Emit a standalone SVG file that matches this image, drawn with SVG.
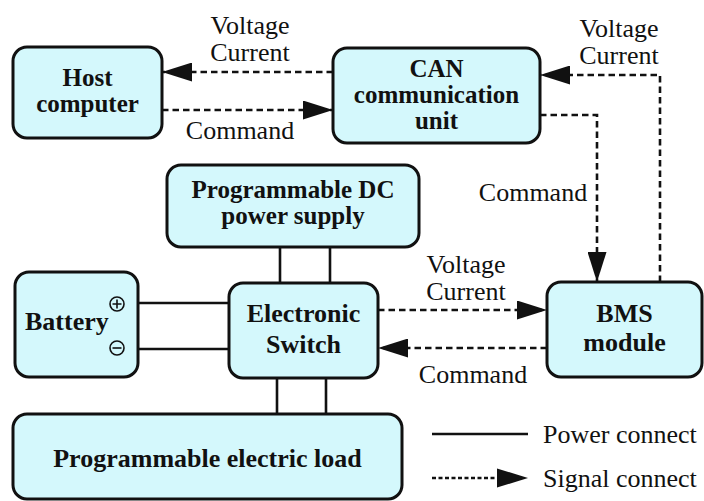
<svg xmlns="http://www.w3.org/2000/svg" width="704" height="501" viewBox="0 0 704 501">
<style>
.box{fill:#D4F8FC;stroke:#111;stroke-width:3}
.nt{font-family:"Liberation Serif","Times New Roman",serif;font-weight:bold;font-size:26px;fill:#111;text-anchor:middle}
.nt2{font-size:25px}
.lt{font-family:"Liberation Serif","Times New Roman",serif;font-size:26px;fill:#111;text-anchor:middle}
.pw{stroke:#111;stroke-width:2.6;fill:none}
.sg{stroke:#111;stroke-width:2.6;fill:none;stroke-dasharray:6.5 4}
.pol{stroke:#111;stroke-width:1.6;fill:none}
</style>
<defs>
<marker id="ah" markerUnits="userSpaceOnUse" markerWidth="30" markerHeight="19" refX="30" refY="9.5" orient="auto">
<path d="M0,0 L30,9.5 L0,19 z" fill="#111"/>
</marker>
</defs>
<rect width="704" height="501" fill="#fff"/>
<g id="connectors">
<path class="sg" d="M333,72 H162" marker-end="url(#ah)"/>
<path class="sg" d="M162,110 H333" marker-end="url(#ah)"/>
<path class="sg" d="M540,115 H597 V282" marker-end="url(#ah)"/>
<path class="sg" d="M660,282 V75 H540" marker-end="url(#ah)"/>
<path class="sg" d="M378,310 H547" marker-end="url(#ah)"/>
<path class="sg" d="M547,348 H378" marker-end="url(#ah)"/>
<path class="pw" d="M280,247 V283 M330,247 V283"/>
<path class="pw" d="M277,378 V414 M326,378 V414"/>
<path class="pw" d="M138,303 H229 M138,349 H229"/>
</g>
<g id="labels">
<text class="lt" x="250" y="34">Voltage</text>
<text class="lt" x="250" y="61">Current</text>
<text class="lt" x="240" y="139">Command</text>
<text class="lt" x="619" y="37">Voltage</text>
<text class="lt" x="619" y="64">Current</text>
<text class="lt" x="533" y="201">Command</text>
<text class="lt" x="466" y="273">Voltage</text>
<text class="lt" x="466" y="300">Current</text>
<text class="lt" x="473" y="383">Command</text>
</g>
<g id="host">
<rect class="box" x="13" y="47" width="149" height="91" rx="14"/>
<text class="nt nt2" x="87.5" y="86">Host</text>
<text class="nt nt2" x="87.5" y="112">computer</text>
</g>
<g id="can">
<rect class="box" x="333" y="48" width="207" height="95" rx="14"/>
<text class="nt nt2" x="436.5" y="76.5">CAN</text>
<text class="nt nt2" x="436.5" y="102.5">communication</text>
<text class="nt nt2" x="436.5" y="128.5">unit</text>
</g>
<g id="psu">
<rect class="box" x="167" y="165" width="252" height="82" rx="14"/>
<text class="nt nt2" x="293" y="198">Programmable DC</text>
<text class="nt nt2" x="293" y="224">power supply</text>
</g>
<g id="battery">
<rect class="box" x="15" y="272" width="123" height="105" rx="14"/>
<text class="nt" x="25" y="330" style="text-anchor:start">Battery</text>
<circle class="pol" cx="117" cy="304" r="7"/>
<path class="pol" d="M112.5,304 H121.5 M117,299.5 V308.5"/>
<circle class="pol" cx="117" cy="348" r="7"/>
<path class="pol" d="M112.5,348 H121.5"/>
</g>
<g id="switch">
<rect class="box" x="229" y="283" width="149" height="95" rx="14"/>
<text class="nt" x="303.5" y="322">Electronic</text>
<text class="nt" x="303.5" y="353">Switch</text>
</g>
<g id="bms">
<rect class="box" x="547" y="282" width="155" height="95" rx="14"/>
<text class="nt" x="624.5" y="322">BMS</text>
<text class="nt" x="624.5" y="351">module</text>
</g>
<g id="load">
<rect class="box" x="13" y="414" width="389" height="85" rx="14"/>
<text class="nt" x="207.5" y="467">Programmable electric load</text>
</g>
<g id="legend">
<path class="pw" d="M432,434 H528"/>
<path class="pw" d="M432,478 H500" style="stroke-dasharray:4 2.5"/>
<path d="M497,468.5 L528,478 L497,487.5 z" fill="#111"/>
<text class="lt" x="543" y="443" style="text-anchor:start">Power connect</text>
<text class="lt" x="543" y="487" style="text-anchor:start">Signal connect</text>
</g>
</svg>
